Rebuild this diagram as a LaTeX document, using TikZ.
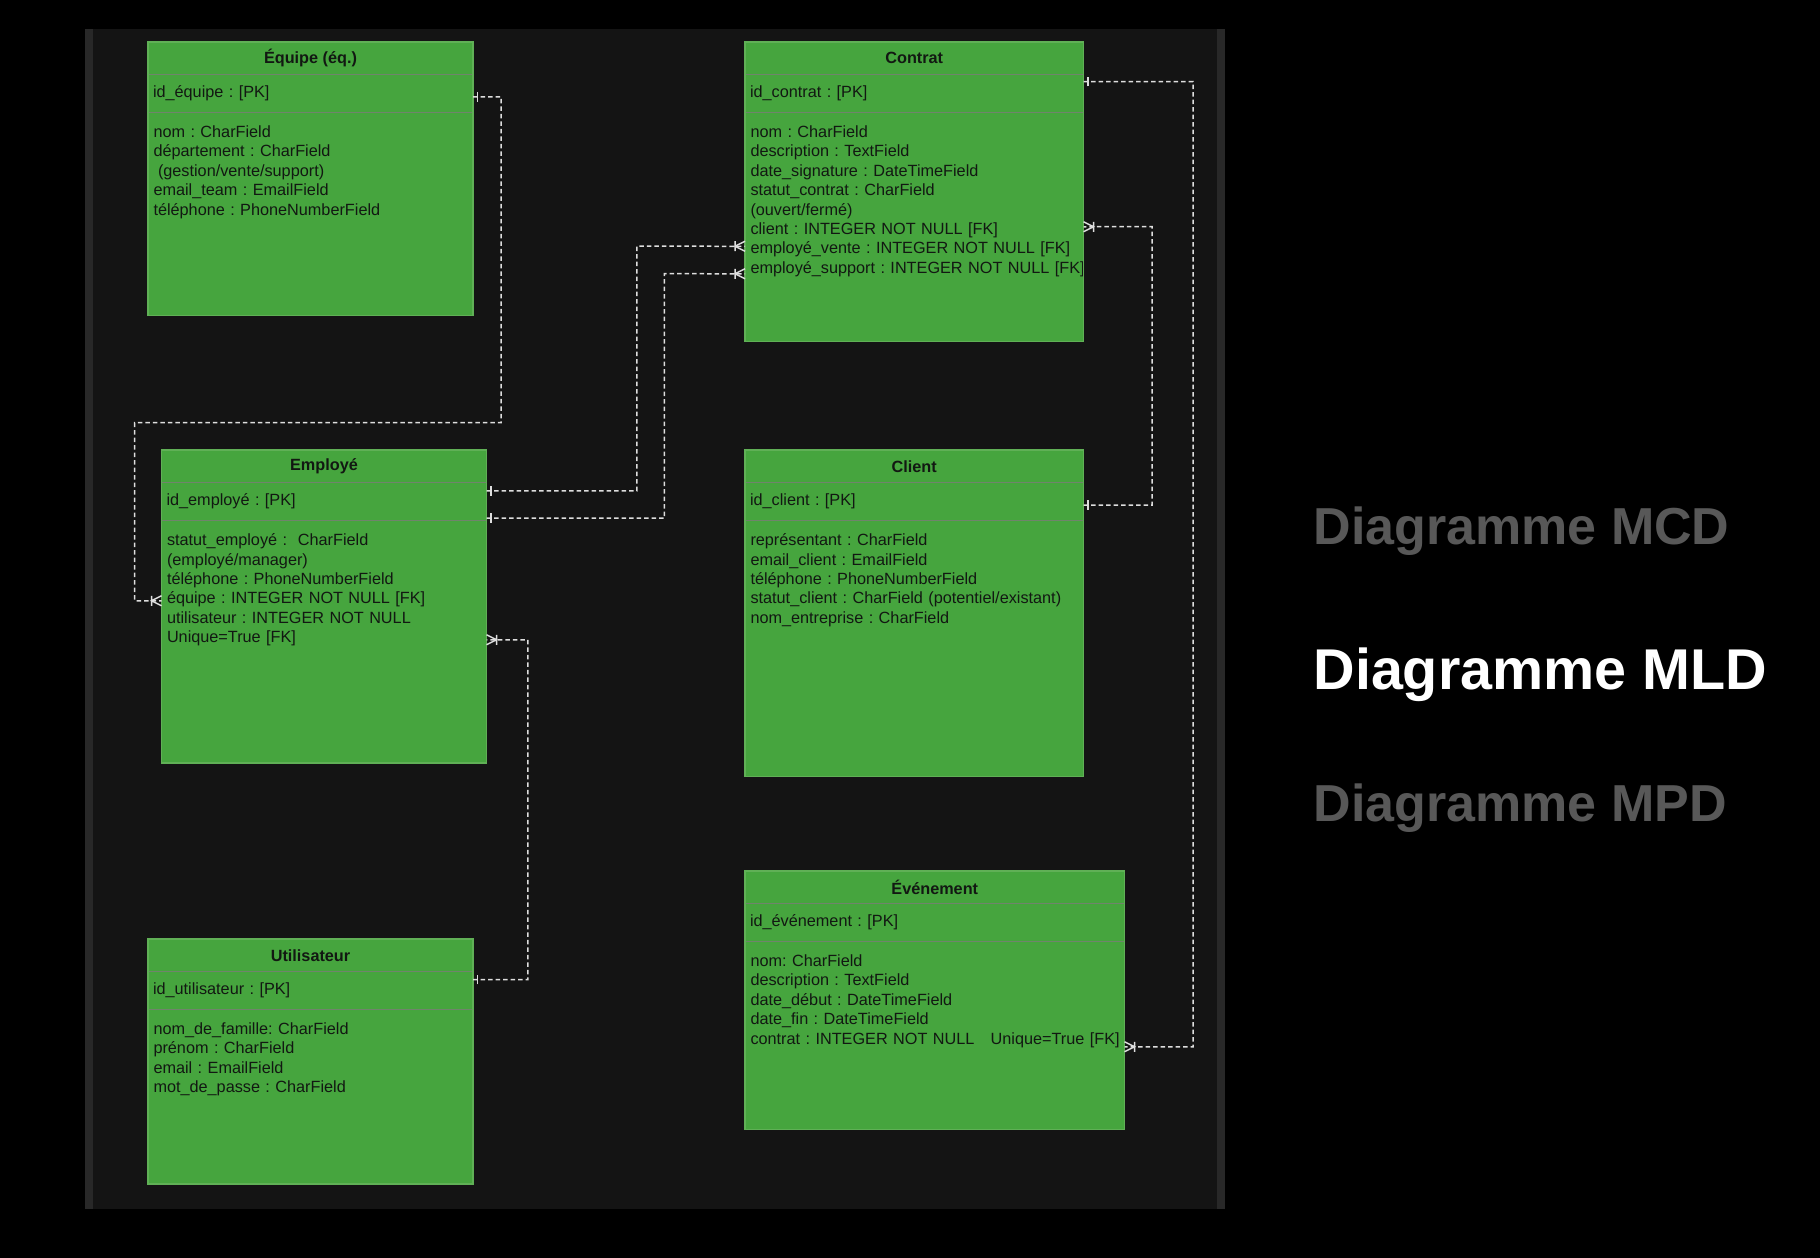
\documentclass[tikz,border=0pt]{standalone}
\usepackage{fontspec}
\setmainfont{Liberation Sans}
\usetikzlibrary{positioning,decorations.markings}
\definecolor{tblgreen}{RGB}{70,165,62}
\definecolor{tblsep}{RGB}{112,132,108}
\definecolor{tblborder}{RGB}{96,176,86}
\definecolor{tbltxt}{RGB}{18,24,18}
\definecolor{linkgray}{RGB}{222,222,222}
\definecolor{panelbg}{RGB}{20,20,20}
\definecolor{panelstripe}{RGB}{40,40,40}
\definecolor{menugray}{RGB}{88,88,88}
\newcommand{\tblfont}{\fontsize{6.5pt}{7.75pt}\selectfont}
\frenchspacing

\begin{document}
\begin{tikzpicture}[x=0.4pt,y=-0.4pt,
    tbltitle/.style={rectangle,draw=tblsep,fill=tblgreen,text=tbltxt,anchor=north west,minimum height=13pt,inner sep=0pt,outer sep=0pt,font=\tblfont\bfseries},
    tblid/.style={rectangle,draw=tblsep,fill=tblgreen,text=tbltxt,minimum height=15.3pt,inner xsep=2pt,inner ysep=0pt,outer sep=0pt,align=left,font=\tblfont},
    tblbody/.style={rectangle,draw=tblsep,fill=tblgreen,inner sep=0pt,outer sep=0pt},
    tbltext/.style={anchor=north west,text=tbltxt,inner xsep=2pt,inner ysep=5pt,align=left,font=\tblfont},
    tblframe/.style={draw=tblborder,line width=0.5pt},
    link/.style={draw=linkgray,line width=0.6pt,dash pattern=on 1.8pt off 1.2pt},
    onetip/.style={postaction={decorate,decoration={markings,mark=at position 0 with {\draw[solid,linkgray,line width=0.6pt] (1.8pt,-1.9pt) -- (1.8pt,1.9pt);}}}},
    manytip/.style={postaction={decorate,decoration={markings,mark=at position 1 with {\draw[solid,linkgray,line width=0.6pt] (0,2pt) -- (-4pt,0) -- (0,-2pt) (-4pt,2pt) -- (-4pt,-2pt);}}}},
    menu/.style={anchor=base west,inner sep=0pt}]
    % background and panel
    \useasboundingbox (0,0) rectangle (1820,1258);
    \fill[black] (0,0) rectangle (1820,1258);
    \fill[panelbg] (85,29) rectangle (1225,1209);
    \fill[panelstripe] (85,29) rectangle (93,1209);
    \fill[panelstripe] (1217,29) rectangle (1225,1209);

    % Equipe
    \node[tbltitle,minimum width=130pt] (equipe) at (148,42) {Équipe (éq.)};
    \node[tblid,text width=126pt,below=0pt of equipe] (equipe-id) {id\_équipe : [PK]};
    \node[tblbody,minimum width=130pt,minimum height=81pt,below=0pt of equipe-id] (equipe-f) {};
    \node[tbltext,text width=126pt] (equipe-t) at (equipe-f.north west) {nom : CharField\\département : CharField\\\hspace*{1.8pt}(gestion/vente/support)\\email\_team : EmailField\\téléphone : PhoneNumberField};
    \draw[tblframe] (equipe.north west) rectangle (equipe-f.south east);

    % Contrat
    \node[tbltitle,minimum width=135.4pt] (contrat) at (745,42) {Contrat};
    \node[tblid,text width=131.4pt,below=0pt of contrat] (contrat-id) {id\_contrat : [PK]};
    \node[tblbody,minimum width=135.4pt,minimum height=91.6pt,below=0pt of contrat-id] (contrat-f) {};
    \node[tbltext,text width=131.4pt] (contrat-t) at (contrat-f.north west) {nom : CharField\\description : TextField\\date\_signature : DateTimeField\\statut\_contrat : CharField\\(ouvert/fermé)\\client : INTEGER NOT NULL [FK]\\employé\_vente : INTEGER NOT NULL [FK]\\\mbox{employé\_support : INTEGER NOT NULL [FK]}};
    \draw[tblframe] (contrat.north west) rectangle (contrat-f.south east);

    % Employe
    \node[tbltitle,minimum width=130pt] (employe) at (161.5,450) {Employé};
    \node[tblid,text width=126pt,below=0pt of employe] (employe-id) {id\_employé : [PK]};
    \node[tblbody,minimum width=130pt,minimum height=96.9pt,below=0pt of employe-id] (employe-f) {};
    \node[tbltext,text width=126pt] (employe-t) at (employe-f.north west) {statut\_employé :\ \ CharField\\(employé/manager)\\téléphone : PhoneNumberField\\équipe : INTEGER NOT NULL [FK]\\utilisateur : INTEGER NOT NULL\\Unique=True [FK]};
    \draw[tblframe] (employe.north west) rectangle (employe-f.south east);

    % Client
    \node[tbltitle,minimum width=135.4pt] (client) at (745,450) {Client};
    \node[tblid,text width=131.4pt,below=0pt of client] (client-id) {id\_client : [PK]};
    \node[tblbody,minimum width=135.4pt,minimum height=102.2pt,below=0pt of client-id] (client-f) {};
    \node[tbltext,text width=131.4pt] (client-t) at (client-f.north west) {représentant : CharField\\email\_client : EmailField\\téléphone : PhoneNumberField\\statut\_client : CharField (potentiel/existant)\\nom\_entreprise : CharField};
    \draw[tblframe] (client.north west) rectangle (client-f.south east);

    % Evenement
    \node[tbltitle,minimum width=151.8pt] (evenement) at (745,871) {Événement};
    \node[tblid,text width=147.8pt,below=0pt of evenement] (evenement-id) {id\_événement : [PK]};
    \node[tblbody,minimum width=151.8pt,minimum height=75pt,below=0pt of evenement-id] (evenement-f) {};
    \node[tbltext,text width=147.8pt] (evenement-t) at (evenement-f.north west) {nom: CharField\\description : TextField\\date\_début : DateTimeField\\date\_fin : DateTimeField\\\mbox{contrat : INTEGER NOT NULL\ \ \ Unique=True [FK]}};
    \draw[tblframe] (evenement.north west) rectangle (evenement-f.south east);

    % Utilisateur
    \node[tbltitle,minimum width=130pt] (utilisateur) at (148,939) {Utilisateur};
    \node[tblid,text width=126pt,below=0pt of utilisateur] (utilisateur-id) {id\_utilisateur : [PK]};
    \node[tblbody,minimum width=130pt,minimum height=69.7pt,below=0pt of utilisateur-id] (utilisateur-f) {};
    \node[tbltext,text width=126pt] (utilisateur-t) at (utilisateur-f.north west) {nom\_de\_famille: CharField\\prénom : CharField\\email : EmailField\\mot\_de\_passe : CharField};
    \draw[tblframe] (utilisateur.north west) rectangle (utilisateur-f.south east);

    % relations
    \draw[link,onetip,manytip] ([yshift=-1.3pt]equipe-id.east) -| (501,422.7) -| (134.7,600.75) -- ([yshift=-32pt]employe-f.north west);
    \draw[link,onetip,manytip] ([yshift=4.3pt]employe-id.east) -| (636.8,246.25) -- ([yshift=-53.4pt]contrat-f.north west);
    \draw[link,onetip,manytip] ([yshift=-6.6pt]employe-id.east) -| (664.4,273.75) -- ([yshift=-64.4pt]contrat-f.north west);
    \draw[link,onetip,manytip] ([yshift=-1.4pt]client-id.east) -| (1152,226.75) -- ([yshift=-45.6pt]contrat-f.north east);
    \draw[link,onetip,manytip] ([yshift=4.8pt]contrat-id.east) -| (1193,1046.75) -- ([yshift=-42pt]evenement-f.north east);
    \draw[link,onetip,manytip] ([yshift=4.4pt]utilisateur-id.east) -| (527.8,639.75) -- ([yshift=-47.6pt]employe-f.north east);

    % menu
    \node[menu,text=menugray,font=\bfseries\fontsize{20.8pt}{24pt}\selectfont] (mcd) at (1313,544) {Diagramme MCD};
    \node[menu,text=white,font=\bfseries\fontsize{23pt}{27pt}\selectfont] (mld) at (1313,689) {Diagramme MLD};
    \node[menu,text=menugray,font=\bfseries\fontsize{20.8pt}{24pt}\selectfont] (mpd) at (1313,821) {Diagramme MPD};
\end{tikzpicture}
\end{document}
